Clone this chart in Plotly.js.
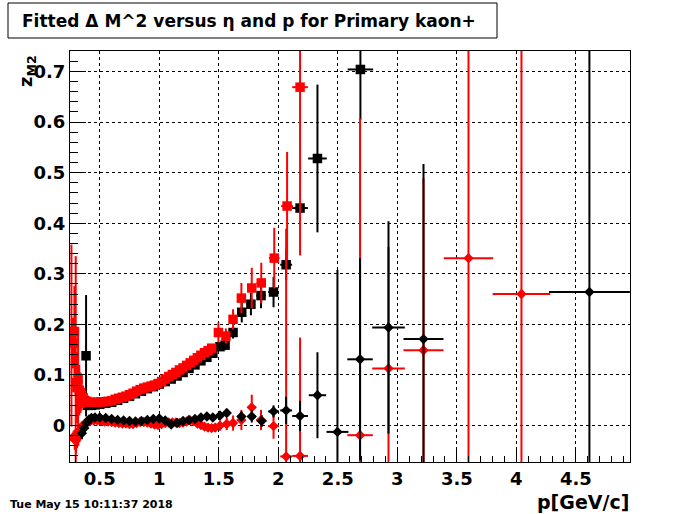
<!DOCTYPE html>
<html><head><meta charset="utf-8">
<script src="https://cdn.plot.ly/plotly-3.0.1.min.js"></script>
<style>html,body{margin:0;padding:0;background:#fff}#chart{width:700px;height:514px}</style>
</head><body><div id="chart"></div>
<script>
// Black squares
const bsqP  = [0.385,0.40,0.43,0.46,0.50,0.55,0.60,0.65,0.70,0.75,0.80,0.85,0.90,0.95,1.00,1.05,1.10,1.15,1.20,1.25,1.30,1.35,1.40,1.45,1.51,1.553,1.62,1.693,1.77,1.855,1.96,2.066,2.183,2.329,2.69];
const bsqV  = [0.138,0.040,0.040,0.041,0.042,0.044,0.046,0.050,0.054,0.058,0.063,0.068,0.073,0.077,0.082,0.087,0.092,0.098,0.105,0.113,0.120,0.128,0.135,0.143,0.156,0.159,0.184,0.224,0.240,0.257,0.264,0.318,0.430,0.528,0.704];
const bsqEy = [0.12,0.004,0.003,0.003,0.003,0.003,0.003,0.003,0.003,0.003,0.003,0.003,0.003,0.003,0.004,0.004,0.004,0.004,0.005,0.005,0.005,0.006,0.006,0.007,0.008,0.01,0.012,0.02,0.022,0.025,0.03,0.03,0.01,0.146,0.1];
const bsqEx = [0.01,0.01,0.01,0.01,0.01,0.01,0.01,0.01,0.01,0.01,0.01,0.01,0.01,0.01,0.01,0.01,0.01,0.01,0.01,0.01,0.01,0.01,0.01,0.01,0.02,0.02,0.025,0.03,0.035,0.04,0.045,0.05,0.066,0.078,0.107];

// Red squares
const rsqP  = [0.262,0.275,0.287,0.298,0.308,0.318,0.328,0.338,0.348,0.36,0.372,0.39,0.42,0.45,0.48,0.51,0.54,0.57,0.60,0.63,0.66,0.69,0.72,0.75,0.78,0.81,0.84,0.87,0.90,0.93,0.96,0.99,1.02,1.05,1.08,1.11,1.14,1.17,1.20,1.23,1.26,1.29,1.32,1.35,1.38,1.41,1.44,1.497,1.56,1.62,1.69,1.777,1.857,1.966,2.074,2.183];
const rsqV  = [0.178,0.163,0.186,0.085,0.075,0.092,0.07,0.065,0.06,0.055,0.05,0.048,0.046,0.046,0.046,0.047,0.047,0.048,0.049,0.052,0.054,0.056,0.058,0.061,0.064,0.068,0.071,0.074,0.076,0.078,0.080,0.083,0.087,0.092,0.097,0.101,0.105,0.110,0.114,0.119,0.124,0.129,0.134,0.139,0.144,0.148,0.153,0.184,0.177,0.21,0.252,0.272,0.282,0.331,0.434,0.669];
const rsqEy = [0.18,0.05,0.09,0.25,0.07,0.1,0.05,0.04,0.03,0.02,0.015,0.01,0.004,0.004,0.004,0.004,0.004,0.004,0.004,0.004,0.004,0.004,0.004,0.004,0.004,0.004,0.004,0.004,0.004,0.004,0.004,0.004,0.004,0.004,0.004,0.004,0.004,0.004,0.004,0.004,0.004,0.004,0.004,0.004,0.004,0.004,0.004,0.02,0.015,0.02,0.03,0.04,0.04,0.06,0.107,0.333];
const rsqEx = [0.006,0.006,0.006,0.006,0.006,0.006,0.006,0.006,0.006,0.006,0.006,0.006,0.01,0.01,0.01,0.01,0.01,0.01,0.01,0.01,0.01,0.01,0.01,0.01,0.01,0.01,0.01,0.01,0.01,0.01,0.01,0.01,0.01,0.01,0.01,0.01,0.01,0.01,0.01,0.01,0.01,0.01,0.01,0.01,0.01,0.01,0.01,0.02,0.02,0.025,0.03,0.035,0.04,0.045,0.05,0.066];

// Red diamonds
const rdiP  = [0.28,0.29,0.30,0.31,0.32,0.33,0.34,0.35,0.37,0.39,0.42,0.45,0.48,0.51,0.54,0.57,0.60,0.63,0.66,0.69,0.72,0.75,0.78,0.81,0.84,0.87,0.90,0.93,0.96,0.99,1.02,1.05,1.08,1.11,1.14,1.17,1.20,1.23,1.26,1.29,1.32,1.35,1.38,1.41,1.44,1.47,1.51,1.567,1.62,1.69,1.777,1.855,1.96,2.066,2.183,2.687,2.926,3.22,3.598,4.043];
const rdiV  = [-0.022,-0.028,-0.030,-0.025,-0.022,-0.015,-0.008,-0.002,0.003,0.006,0.009,0.010,0.010,0.009,0.008,0.008,0.007,0.006,0.005,0.004,0.004,0.003,0.003,0.005,0.007,0.007,0.006,0.004,0.002,0.001,0.003,0.005,0.006,0.006,0.006,0.005,0.006,0.008,0.010,0.009,0.004,0.001,-0.002,-0.004,-0.005,-0.004,0.000,0.003,0.005,0.011,0.036,0.011,-0.001,-0.061,-0.060,-0.019,0.113,0.149,0.331,0.260];
const rdiEy = [0.012,0.02,0.025,0.02,0.018,0.015,0.012,0.01,0.008,0.006,0.004,0.004,0.004,0.004,0.004,0.004,0.004,0.004,0.004,0.004,0.004,0.004,0.004,0.004,0.004,0.004,0.004,0.004,0.004,0.004,0.004,0.004,0.004,0.004,0.004,0.004,0.004,0.005,0.005,0.005,0.005,0.006,0.006,0.006,0.007,0.008,0.01,0.012,0.015,0.02,0.025,0.02,0.025,0.45,0.234,0.626,0.24,0.34,0.8,0.8];
const rdiEx = [0.005,0.005,0.005,0.005,0.005,0.005,0.005,0.005,0.005,0.005,0.01,0.01,0.01,0.01,0.01,0.01,0.01,0.01,0.01,0.01,0.01,0.01,0.01,0.01,0.01,0.01,0.01,0.01,0.01,0.01,0.01,0.01,0.01,0.01,0.01,0.01,0.01,0.01,0.01,0.01,0.01,0.01,0.01,0.01,0.01,0.01,0.02,0.02,0.025,0.03,0.035,0.04,0.045,0.05,0.066,0.107,0.137,0.168,0.208,0.242];

// Black diamonds
const bdiP  = [0.35,0.37,0.39,0.41,0.43,0.46,0.50,0.55,0.60,0.65,0.70,0.75,0.80,0.85,0.90,0.95,1.00,1.05,1.10,1.15,1.20,1.25,1.30,1.35,1.40,1.45,1.51,1.567,1.69,1.777,1.86,1.96,2.066,2.183,2.329,2.497,2.687,2.926,3.22,4.614];
const bdiV  = [-0.015,-0.005,0.005,0.012,0.015,0.016,0.016,0.015,0.013,0.011,0.010,0.009,0.008,0.009,0.011,0.013,0.014,0.010,0.002,0.005,0.009,0.011,0.013,0.016,0.018,0.016,0.020,0.025,0.018,0.018,0.009,0.028,0.030,0.019,0.060,-0.0125,0.131,0.194,0.171,0.264];
const bdiEy = [0.012,0.008,0.006,0.005,0.004,0.003,0.003,0.003,0.003,0.003,0.003,0.003,0.003,0.003,0.003,0.003,0.003,0.003,0.003,0.003,0.003,0.003,0.003,0.003,0.003,0.003,0.005,0.006,0.01,0.012,0.012,0.012,0.027,0.03,0.085,0.32,0.2,0.21,0.346,0.8];
const bdiEx = [0.01,0.01,0.01,0.01,0.01,0.01,0.01,0.01,0.01,0.01,0.01,0.01,0.01,0.01,0.01,0.01,0.01,0.01,0.01,0.01,0.01,0.01,0.01,0.01,0.01,0.01,0.01,0.01,0.03,0.035,0.04,0.045,0.05,0.066,0.073,0.092,0.107,0.137,0.168,0.34];

const titleText = "Fitted \u0394 M^2 versus \u03b7 and p for Primary kaon+";
const xTitle = "p[GeV/c]";
const yTitle = "z<sub>M2</sub>";
const dateText = "Tue May 15 10:11:37 2018";

function tr(x, y, ey, ex, color, symbol, size) {
  return {
    type: 'scatter', mode: 'markers', x: x, y: y,
    marker: {symbol: symbol, size: size, color: color, line: {width: 0}},
    error_y: {type: 'data', array: ey, visible: true, color: color, thickness: 2, width: 0},
    error_x: {type: 'data', array: ex, visible: true, color: color, thickness: 2, width: 0},
    cliponaxis: true, showlegend: false, hoverinfo: 'skip'
  };
}
const data = [
  tr(bsqP, bsqV, bsqEy, bsqEx, '#000000', 'square', 9.5),
  tr(rsqP, rsqV, rsqEy, rsqEx, '#ff0000', 'square', 9.5),
  tr(rdiP, rdiV, rdiEy, rdiEx, '#ff0000', 'diamond', 8),
  tr(bdiP, bdiV, bdiEy, bdiEx, '#000000', 'diamond', 8)
];

const L = 70, R = 630, T = 51, B = 462;
const px = v => (v - L) / (R - L);
const py = v => (B - v) / (B - T);
const bold = {family: 'DejaVu Sans', size: 18, color: '#000', weight: 'bold'};

const axCommon = {
  ticks: 'inside', tickcolor: '#000', tickwidth: 1,
  showline: true, linecolor: '#000', linewidth: 1, mirror: true,
  showgrid: true, gridcolor: '#000', gridwidth: 1, griddash: 'dot',
  zeroline: false, tickfont: bold, fixedrange: true
};

const layout = {
  width: 700, height: 514,
  margin: {l: L, r: 700 - R, t: T, b: 514 - B, pad: 0},
  paper_bgcolor: '#fff', plot_bgcolor: '#fff',
  showlegend: false,
  xaxis: Object.assign({}, axCommon, {
    range: [0.25, 4.955], tick0: 0, dtick: 0.5, ticklen: 12,
    minor: {ticks: 'inside', ticklen: 6, tick0: 0, dtick: 0.1, tickcolor: '#000', showgrid: false}
  }),
  yaxis: Object.assign({}, axCommon, {
    range: [-0.072, 0.7405], tick0: 0, dtick: 0.1, ticklen: 16,
    minor: {ticks: 'inside', ticklen: 8, tick0: 0, dtick: 0.02, tickcolor: '#000', showgrid: false}
  }),
  shapes: [{
    type: 'rect', xref: 'paper', yref: 'paper',
    x0: px(8), x1: px(497), y0: py(38), y1: py(3),
    line: {color: '#000', width: 1}, fillcolor: '#fff', layer: 'above'
  }],
  annotations: [
    {text: titleText, xref: 'paper', yref: 'paper', x: px(249), y: py(21),
     xanchor: 'center', yanchor: 'middle', showarrow: false,
     font: {family: 'DejaVu Sans', size: 17, color: '#000', weight: 'bold'}},
    {text: xTitle, xref: 'paper', yref: 'paper', x: px(631), y: py(502),
     xanchor: 'right', yanchor: 'middle', showarrow: false,
     font: {family: 'DejaVu Sans', size: 19, color: '#000', weight: 'bold'}},
    {text: yTitle, xref: 'paper', yref: 'paper', x: px(27), y: py(71),
     xanchor: 'center', yanchor: 'middle', showarrow: false, textangle: -90,
     font: {family: 'DejaVu Sans', size: 18, color: '#000', weight: 'bold'}},
    {text: dateText, xref: 'paper', yref: 'paper', x: px(8), y: py(504),
     xanchor: 'left', yanchor: 'middle', showarrow: false,
     font: {family: 'DejaVu Sans', size: 11, color: '#000', weight: 'bold'}}
  ]
};
Plotly.newPlot('chart', data, layout, {displayModeBar: false, staticPlot: true});
</script></body></html>
